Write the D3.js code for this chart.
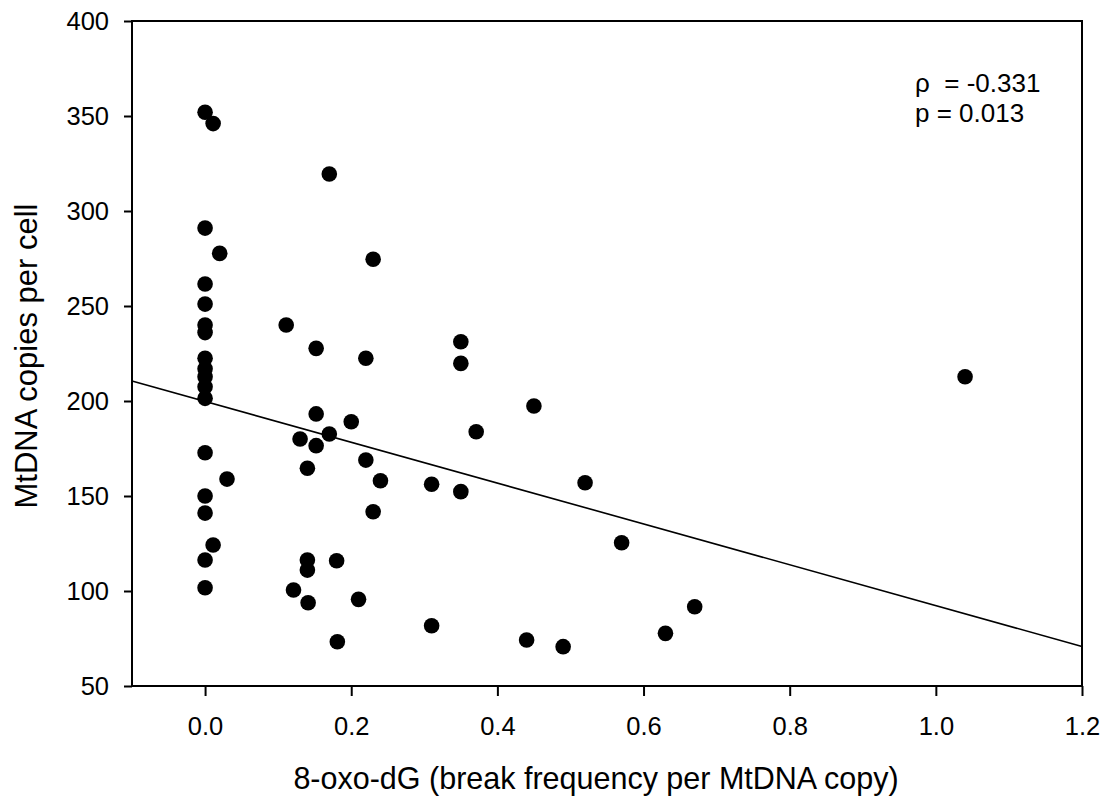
<!DOCTYPE html>
<html>
<head>
<meta charset="utf-8">
<script src="https://cdn.jsdelivr.net/npm/d3@7"></script>
<style>
  body { margin: 0; background: #fff; }
  text { font-family: Arial, "Liberation Sans", sans-serif; fill: #000; }
</style>
</head>
<body>
<div id="chart"></div>
<script>
// 8-oxo-dG break frequency vs mtDNA copy number
const breakFreq = [
  0, 0, 0, 0, 0, 0, 0, 0, 0, 0, 0, 0, 0, 0, 0, 0,
  0.011, 0.011, 0.02, 0.03,
  0.111, 0.121, 0.13, 0.14, 0.14, 0.14, 0.141,
  0.152, 0.152, 0.152, 0.17, 0.17, 0.18, 0.181,
  0.2, 0.21, 0.22, 0.22, 0.23, 0.23, 0.24,
  0.31, 0.31, 0.35, 0.35, 0.35, 0.371,
  0.44, 0.45, 0.49, 0.52, 0.57, 0.63, 0.67, 1.04
];
const copiesPerCell = [
  352, 291, 261.6, 251, 240, 236, 222.5, 217, 212.8, 207.5, 201.4, 172.8, 150, 141, 116.3, 101.7,
  346, 124.2, 277.7, 158.9,
  240, 100.5, 180, 164.6, 116.3, 111, 93.8,
  227.7, 193.2, 176.5, 319.5, 182.6, 115.9, 73.3,
  189.1, 95.6, 222.5, 168.9, 274.6, 141.7, 158,
  156.2, 81.7, 231.2, 219.8, 152.3, 183.8,
  74.2, 197.4, 70.7, 157, 125.4, 77.7, 91.7, 212.8
];
const xTicks = [0, 0.2, 0.4, 0.6, 0.8, 1.0, 1.2];
const yTicks = [50, 100, 150, 200, 250, 300, 350, 400];
const xDomain = [-0.1, 1.2];
const yDomain = [50, 400];
const fitIntercept = 199.8;
const fitSlope = -107.5;
const statLines = ["ρ  = -0.331", "p = 0.013"];

const width = 1106;
const height = 797;
const margin = { top: 21, right: 24, bottom: 111, left: 132 };

const svg = d3.select('#chart')
  .append('svg')
  .attr('width', width)
  .attr('height', height);

svg.append('rect').attr('width', width).attr('height', height).attr('fill', '#fff');

const x = d3.scaleLinear()
  .domain(xDomain)
  .range([margin.left, width - margin.right]);

const y = d3.scaleLinear()
  .domain(yDomain)
  .range([height - margin.bottom, margin.top]);

const points = breakFreq.map((v, i) => ({ x: v, y: copiesPerCell[i] }));

// regression line
const fit = xDomain.map(v => ({ x: v, y: fitIntercept + fitSlope * v }));
svg.append('path')
  .datum(fit)
  .attr('fill', 'none')
  .attr('stroke', '#000')
  .attr('stroke-width', 1.6)
  .attr('d', d3.line().x(d => x(d.x)).y(d => y(d.y)));

svg.append('g')
  .selectAll('circle')
  .data(points)
  .join('circle')
    .attr('cx', d => x(d.x))
    .attr('cy', d => y(d.y))
    .attr('r', 7.8)
    .attr('fill', '#000');

// frame
svg.append('rect')
  .attr('x', x(xDomain[0]))
  .attr('y', y(yDomain[1]))
  .attr('width', x(xDomain[1]) - x(xDomain[0]))
  .attr('height', y(yDomain[0]) - y(yDomain[1]))
  .attr('fill', 'none')
  .attr('stroke', '#000')
  .attr('stroke-width', 2);

function xAxis(g) {
  g.attr('transform', `translate(0,${y(yDomain[0])})`)
    .call(d3.axisBottom(x).tickValues(xTicks).tickFormat(d3.format('.1f')).tickSize(10).tickPadding(21))
    .call(g => g.select('.domain').remove())
    .call(g => g.selectAll('line').attr('stroke-width', 2))
    .attr('font-size', '25.5px')
    .attr('font-family', null);
}

function yAxis(g) {
  g.attr('transform', `translate(${x(xDomain[0])},0)`)
    .call(d3.axisLeft(y).tickValues(yTicks).tickSize(8).tickPadding(15))
    .call(g => g.select('.domain').remove())
    .call(g => g.selectAll('line').attr('stroke-width', 2))
    .attr('font-size', '25.5px')
    .attr('font-family', null);
}

svg.append('g').call(xAxis);
svg.append('g').call(yAxis);

svg.append('text')
  .attr('x', 596)
  .attr('y', 789)
  .attr('text-anchor', 'middle')
  .attr('font-size', '30.5px')
  .text('8-oxo-dG (break frequency per MtDNA copy)');

svg.append('text')
  .attr('transform', 'translate(37,356) rotate(-90)')
  .attr('text-anchor', 'middle')
  .attr('font-size', '31px')
  .text('MtDNA copies per cell');

svg.append('g')
  .selectAll('text')
  .data(statLines)
  .join('text')
    .attr('x', 915)
    .attr('y', (d, i) => 92 + i * 30)
    .attr('font-size', '26px')
    .style('white-space', 'pre')
    .text(d => d);
</script>
</body>
</html>
